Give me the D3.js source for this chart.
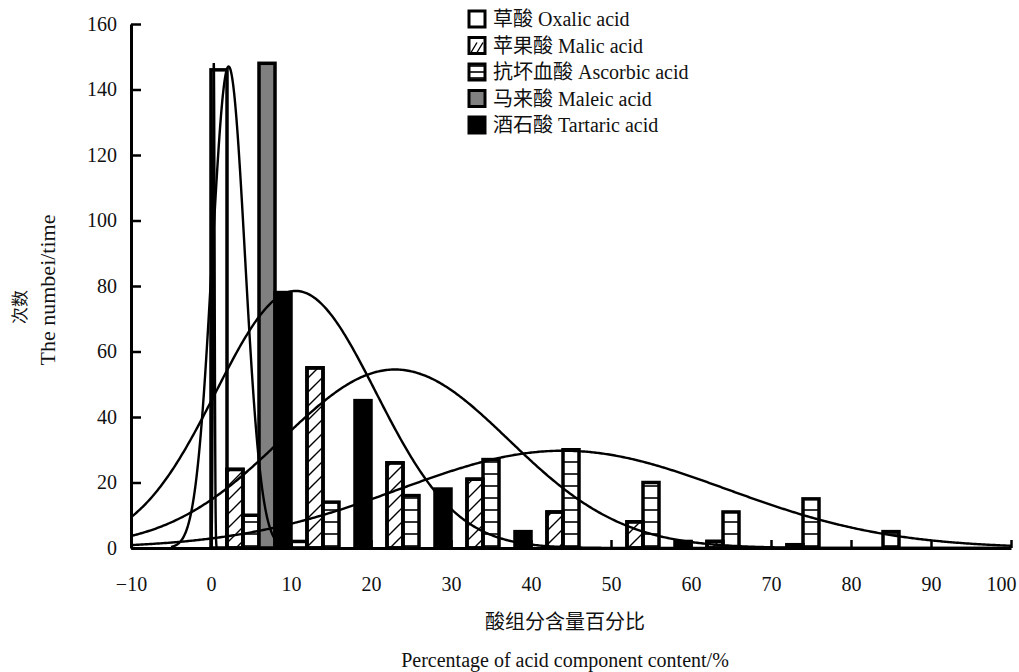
<!DOCTYPE html>
<html>
<head>
<meta charset="utf-8">
<script src="https://d3js.org/d3.v7.min.js"></script>
<style>
  body { margin: 0; background: #fff; }
  text { font-family: "Liberation Serif", "Noto Sans CJK SC", serif; fill: #111; }
</style>
</head>
<body>
<script>
// bin start of each group (percent)
var binStarts = [0, 10, 20, 30, 40, 50, 60, 70, 80];

// counts per bin for every acid
var oxalic   = [146, 2, 0, 0, 0, 0, 0, 0, 0];
var malic    = [24, 55, 26, 21, 11, 8, 2, 1, 0];
var ascorbic = [10, 14, 16, 27, 30, 20, 11, 15, 5];
var maleic   = [148, 0, 0, 0, 0, 0, 0, 0, 0];
var tartaric = [78, 45, 18, 5, 0, 2, 0, 0, 0];

var seriesNames = ["草酸 Oxalic acid", "苹果酸 Malic acid", "抗坏血酸 Ascorbic acid", "马来酸 Maleic acid", "酒石酸 Tartaric acid"];

// fitted normal curves: centre, spread, height, x-range
var fitMean  = [2.2, 23, 44, 0.35, 10.6];
var fitSd    = [2.05, 14.2, 20.4, 0.1, 10];
var fitPeak  = [147, 54.5, 29.7, 148, 78.5];
var fitFrom  = [-5, -10, -10, -0.2, -10];
var fitTo    = [12, 100, 100, 0.9, 100];

var xTicks = [-10, 0, 10, 20, 30, 40, 50, 60, 70, 80, 90, 100];
var yTicks = [0, 20, 40, 60, 80, 100, 120, 140, 160];

var width = 1019, height = 672;
var svg = d3.select("body").append("svg")
  .attr("width", width)
  .attr("height", height);

var x = d3.scaleLinear().domain([-10, 100]).range([131, 1011]);
var y = d3.scaleLinear().domain([0, 160]).range([548, 24]);

// fill patterns
var defs = svg.append("defs");
defs.append("pattern")
  .attr("id", "hatch")
  .attr("patternUnits", "userSpaceOnUse")
  .attr("width", 14).attr("height", 14)
  .append("path")
  .attr("d", "M0,14 L14,0 M-2,2 L2,-2 M12,16 L16,12")
  .attr("stroke", "#000").attr("stroke-width", 1.4);
var hp = defs.append("pattern")
  .attr("id", "hlines")
  .attr("patternUnits", "userSpaceOnUse")
  .attr("width", 12).attr("height", 12);
hp.append("rect").attr("width", 12).attr("height", 12).attr("fill", "#fff");
hp.append("line")
  .attr("x1", 0).attr("x2", 12).attr("y1", 6).attr("y2", 6)
  .attr("stroke", "#000").attr("stroke-width", 1.6);

var fills = ["#fff", "url(#hatch)", "url(#hlines)", "#808080", "#000"];
var series = [oxalic, malic, ascorbic, maleic, tartaric];
var slot = 2; // each acid gets a 2-unit slot in its bin

// bars
var bars = [];
series.forEach(function(vals, s) {
  vals.forEach(function(v, i) {
    if (v > 0) bars.push({ s: s, start: binStarts[i] + s * slot, v: v });
  });
});

svg.append("g").selectAll("rect")
  .data(bars)
  .enter()
  .append("rect")
  .attr("x", function(d) { return x(d.start); })
  .attr("width", function(d) { return x(d.start + slot) - x(d.start); })
  .attr("y", function(d) { return y(d.v); })
  .attr("height", function(d) { return y(0) - y(d.v); })
  .attr("fill", function(d) { return d.s === 1 ? "#fff" : fills[d.s]; })
  .attr("stroke", "#000")
  .attr("stroke-width", 3.5);

// hatch overlay for malic (white under pattern)
svg.append("g").selectAll("rect")
  .data(bars.filter(function(d) { return d.s === 1; }))
  .enter()
  .append("rect")
  .attr("x", function(d) { return x(d.start); })
  .attr("width", function(d) { return x(d.start + slot) - x(d.start); })
  .attr("y", function(d) { return y(d.v); })
  .attr("height", function(d) { return y(0) - y(d.v); })
  .attr("fill", "url(#hatch)")
  .attr("stroke", "#000")
  .attr("stroke-width", 3.5);

// fitted curves
var line = d3.line()
  .x(function(d) { return x(d[0]); })
  .y(function(d) { return y(d[1]); });

var curves = fitMean.map(function(m, k) {
  var step = (fitTo[k] - fitFrom[k]) / 600;
  return d3.range(fitFrom[k], fitTo[k] + step / 2, step).map(function(t) {
    var z = (t - m) / fitSd[k];
    return [t, fitPeak[k] * Math.exp(-0.5 * z * z)];
  });
});

svg.append("g").selectAll("path")
  .data(curves)
  .enter()
  .append("path")
  .attr("d", line)
  .attr("fill", "none")
  .attr("stroke", "#000")
  .attr("stroke-width", 2.4);

// axes
var xAxis = svg.append("g")
  .attr("transform", "translate(0," + y(0) + ")")
  .call(d3.axisBottom(x).tickValues(xTicks).tickSize(-8).tickSizeOuter(0).tickPadding(29));
var yAxis = svg.append("g")
  .attr("transform", "translate(" + x(-10) + ",0)")
  .call(d3.axisLeft(y).tickValues(yTicks).tickSize(-10).tickSizeOuter(0).tickPadding(14));

[xAxis, yAxis].forEach(function(a) {
  a.select(".domain").attr("stroke", "#000").attr("stroke-width", 3);
  a.selectAll(".tick line").attr("stroke", "#000").attr("stroke-width", 2.5);
  a.selectAll(".tick text")
    .style("font-family", "'Liberation Serif', serif")
    .style("font-size", "20px")
    .attr("fill", "#111");
});
// last label sits a little inside the axis end, as in the original
xAxis.selectAll(".tick text").filter(function(d) { return d === 100; }).attr("dx", -10);

// axis titles
svg.append("text")
  .attr("x", 565).attr("y", 629)
  .attr("text-anchor", "middle")
  .style("font-size", "20px")
  .text("酸组分含量百分比");
svg.append("text")
  .attr("x", 565).attr("y", 667)
  .attr("text-anchor", "middle")
  .style("font-size", "20px")
  .text("Percentage of acid component content/%");

svg.append("text")
  .attr("transform", "translate(26,307) rotate(-90)")
  .attr("text-anchor", "middle")
  .style("font-size", "17px")
  .text("次数");
svg.append("text")
  .attr("transform", "translate(55,290) rotate(-90)")
  .attr("text-anchor", "middle")
  .style("font-size", "22px")
  .text("The numbei/time");

// legend
var legend = svg.append("g").selectAll("g")
  .data(seriesNames)
  .enter()
  .append("g")
  .attr("transform", function(d, i) { return "translate(469," + (19 + i * 26.5) + ")"; });

legend.append("rect")
  .attr("x", 0).attr("y", -8)
  .attr("width", 16).attr("height", 16)
  .attr("fill", function(d, i) { return i === 1 ? "#fff" : fills[i]; })
  .attr("stroke", "#000")
  .attr("stroke-width", 3);
legend.filter(function(d, i) { return i === 1; })
  .append("path")
  .attr("d", "M2,7 L8,-3 M8,7 L14,-3")
  .attr("stroke", "#000").attr("stroke-width", 1.4);
legend.filter(function(d, i) { return i === 2; })
  .append("line")
  .attr("x1", 0).attr("x2", 16).attr("y1", 0).attr("y2", 0)
  .attr("stroke", "#000").attr("stroke-width", 1.6);

legend.append("text")
  .attr("x", 24).attr("y", 0)
  .attr("dy", "0.35em")
  .style("font-size", "20px")
  .text(function(d) { return d; });
</script>
</body>
</html>
